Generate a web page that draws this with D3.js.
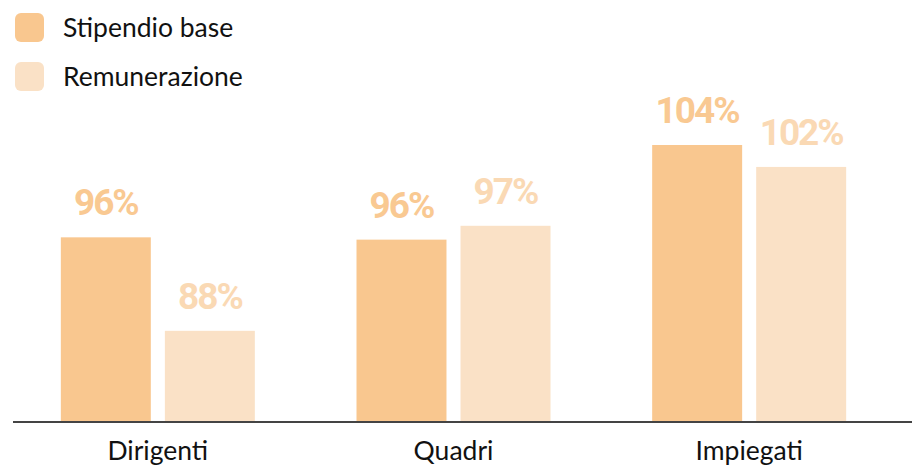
<!DOCTYPE html>
<html>
<head>
<meta charset="utf-8">
<script src="https://cdn.jsdelivr.net/npm/d3@7"></script>
<style>
  body { margin: 0; background: #fff; }
  svg { display: block; }
</style>
</head>
<body>
<svg id="chart" width="917" height="469"></svg>
<script>
let categories = ["Dirigenti", "Quadri", "Impiegati"];
let seriesNames = ["Stipendio base", "Remunerazione"];
let baseValues = [96, 95.8, 104];
let remValues = [87.9, 97, 102.1];

let barColors = ["#f9c78f", "#fae1c6"];
let labelColors = ["#f9c992", "#fad9b4"];

function drawBars(svgId) {
    let svg = d3.select(svgId);
    let baseY = 422;

    let x = d3.scaleBand()
        .domain(categories)
        .range([10, 897]);
    let xInner = d3.scaleBand()
        .domain([0, 1])
        .range([0, 194])
        .paddingInner(0.135);

    let y = d3.scaleLinear()
        .domain([80, 104])
        .range([baseY, 145]);

    let rows = categories.map((c, i) => ({cat: c, values: [baseValues[i], remValues[i]]}));

    let groups = svg.selectAll(".group")
        .data(rows)
        .enter()
        .append("g")
        .attr("class", "group")
        .attr("transform", d => "translate(" + (x(d.cat) + x.bandwidth() / 2 - 97) + ",0)");

    groups.selectAll("rect")
        .data(d => d.values.map((v, k) => ({v: v, k: k})))
        .enter()
        .append("rect")
        .attr("x", d => xInner(d.k))
        .attr("width", xInner.bandwidth())
        .attr("y", d => y(d.v))
        .attr("height", d => baseY - y(d.v))
        .style("fill", d => barColors[d.k]);

    groups.selectAll("text")
        .data(d => d.values.map((v, k) => ({v: v, k: k})))
        .enter()
        .append("text")
        .attr("x", d => xInner(d.k) + xInner.bandwidth() / 2)
        .attr("y", d => y(d.v) - 22)
        .attr("text-anchor", "middle")
        .text(d => Math.round(d.v) + "%")
        .style("font-family", "Roboto")
        .style("font-weight", "bold")
        .style("font-size", "37px")
        .style("letter-spacing", "-2px")
        .style("fill", d => labelColors[d.k]);

    // baseline axis
    let axis = svg.append("g")
        .attr("transform", "translate(0," + baseY + ")")
        .call(d3.axisBottom(x).tickSize(0).tickPadding(19));
    axis.select(".domain")
        .attr("d", "M13,0H912")
        .style("stroke", "#444")
        .style("stroke-width", 2);
    axis.selectAll("text")
        .style("font-family", "Lato")
        .style("font-size", "26.5px")
        .style("fill", "#111");

    // legend
    let legend = svg.selectAll(".legend")
        .data(seriesNames)
        .enter()
        .append("g")
        .attr("class", "legend")
        .attr("transform", (d, i) => "translate(15," + (13 + 49 * i) + ")");
    legend.append("rect")
        .attr("width", 29)
        .attr("height", 29)
        .attr("rx", 6)
        .style("fill", (d, i) => barColors[i]);
    legend.append("text")
        .attr("x", 48)
        .attr("y", 24)
        .text(d => d)
        .style("font-family", "Lato")
        .style("font-size", "26.5px")
        .style("fill", "#111");
}

drawBars("#chart");
</script>
</body>
</html>
